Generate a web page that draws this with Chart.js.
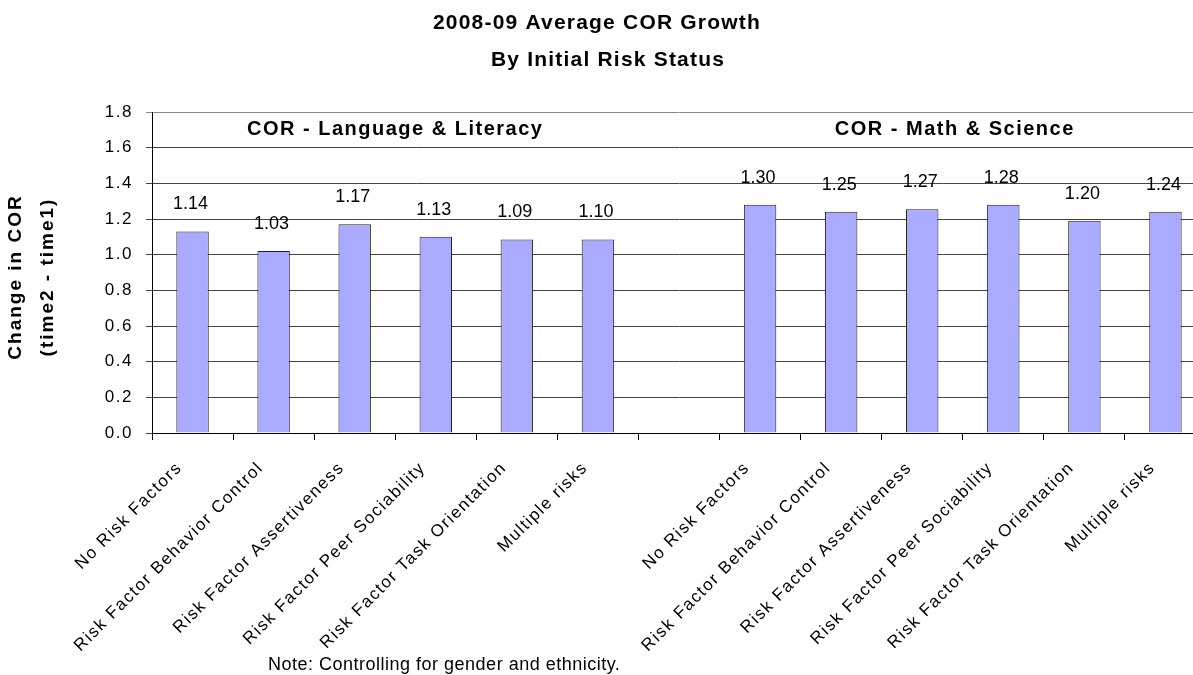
<!DOCTYPE html>
<html>
<head>
<meta charset="utf-8">
<script src="https://cdn.jsdelivr.net/npm/chart.js@4.4.1/dist/chart.umd.min.js"></script>
<style>
  html, body { margin: 0; padding: 0; background: #fff; overflow: hidden; }
  #wrap { position: relative; width: 1206px; height: 675px; }
</style>
</head>
<body>
<div id="wrap"><canvas id="chart"></canvas></div>
<script>
// categories (blank slot separates the two groups)
const categories = [
    'No Risk Factors', 'Risk Factor Behavior Control', 'Risk Factor Assertiveness',
    'Risk Factor Peer Sociability', 'Risk Factor Task Orientation', 'Multiple risks',
    '',
    'No Risk Factors', 'Risk Factor Behavior Control', 'Risk Factor Assertiveness',
    'Risk Factor Peer Sociability', 'Risk Factor Task Orientation', 'Multiple risks'
];
// bar heights
const barValues = [1.13, 1.02, 1.17, 1.10, 1.085, 1.085, null, 1.28, 1.24, 1.255, 1.28, 1.19, 1.24];
// printed value labels
const valueLabels = ['1.14', '1.03', '1.17', '1.13', '1.09', '1.10', '', '1.30', '1.25', '1.27', '1.28', '1.20', '1.24'];
const groupTitles = ['COR - Language & Literacy', 'COR - Math & Science'];
const titleLines = ['2008-09 Average COR Growth', 'By Initial Risk Status'];
const yTitleLines = ['Change in COR', '(time2 - time1)'];
const noteText = 'Note: Controlling for gender and ethnicity.';
const yMin = 0, yMax = 1.8, yStep = 0.2;

const FONT = '"Liberation Sans", Arial, sans-serif';

function drawText(ctx, text, x, y, font, spacing, align) {
    ctx.save();
    ctx.font = font;
    ctx.letterSpacing = spacing + 'px';
    ctx.fillStyle = '#000';
    ctx.textAlign = align || 'center';
    ctx.textBaseline = 'middle';
    ctx.fillText(text, x, y);
    ctx.restore();
}

const annotations = {
    id: 'annotations',
    beforeDraw(chart) {
        chart.ctx.letterSpacing = '1.5px';
    },
    afterDatasetsDraw(chart) {
        const ctx = chart.ctx;
        const xs = chart.scales.x, ys = chart.scales.y;
        // value labels above bars
        chart.getDatasetMeta(0).data.forEach((bar, i) => {
            if (!valueLabels[i]) return;
            drawText(ctx, valueLabels[i], bar.x - 2, bar.y - 27, '18px ' + FONT, 0);
        });
        // group headings
        const yHead = ys.getPixelForValue(1.7);
        const g1 = (xs.getPixelForValue(2) + xs.getPixelForValue(3)) / 2;
        const g2 = (xs.getPixelForValue(9) + xs.getPixelForValue(10)) / 2;
        drawText(ctx, groupTitles[0], g1, yHead, 'bold 20px ' + FONT, 1.5);
        drawText(ctx, groupTitles[1], g2 - 8, yHead, 'bold 20px ' + FONT, 1.5);
    },
    afterDraw(chart) {
        const ctx = chart.ctx;
        // title
        drawText(ctx, titleLines[0], 597, 23, 'bold 21px ' + FONT, 1.2);
        drawText(ctx, titleLines[1], 608, 60, 'bold 21px ' + FONT, 1.2);
        // y axis title
        ctx.save();
        ctx.translate(0, 277);
        ctx.rotate(-Math.PI / 2);
        drawText(ctx, yTitleLines[0], 0, 16, 'bold 19px ' + FONT, 2);
        drawText(ctx, yTitleLines[1], 0, 48, 'bold 19px ' + FONT, 2);
        ctx.restore();
        // footnote
        drawText(ctx, noteText, 268, 665, '18px ' + FONT, 0.5, 'left');
    }
};

new Chart(document.getElementById('chart'), {
    type: 'bar',
    data: {
        labels: categories,
        datasets: [{
            data: barValues,
            backgroundColor: '#AAAAFF',
            borderColor: '#222222',
            borderWidth: 1,
            categoryPercentage: 1.0,
            barPercentage: 0.4
        }]
    },
    options: {
        responsive: true,
        maintainAspectRatio: false,
        animation: false,
        devicePixelRatio: 1,
        layout: { padding: { top: 112, left: 0, right: 0, bottom: 0 } },
        plugins: {
            legend: { display: false },
            title: { display: false },
            tooltip: { enabled: false }
        },
        scales: {
            x: {
                grid: {
                    offset: true,
                    drawOnChartArea: false,
                    color: '#000',
                    tickLength: 7
                },
                border: { color: '#000', width: 1 },
                ticks: {
                    autoSkip: false,
                    maxRotation: 45,
                    minRotation: 45,
                    padding: 18,
                    labelOffset: -13,
                    color: '#000',
                    font: { family: FONT, size: 17 }
                },
                afterFit(scale) { scale.height = 242; }
            },
            y: {
                min: yMin,
                max: yMax,
                grid: {
                    color: ctx => ctx.tick && ctx.tick.value >= yMax - 1e-9 ? '#888' : '#444',
                    tickLength: 6,
                    lineWidth: 1
                },
                border: { color: '#000', width: 1 },
                ticks: {
                    stepSize: yStep,
                    padding: 13,
                    color: '#000',
                    font: { family: FONT, size: 17 },
                    callback: v => Number(v).toFixed(1)
                },
                afterFit(scale) { scale.width = 152; }
            }
        }
    },
    plugins: [annotations]
});
</script>
</body>
</html>
